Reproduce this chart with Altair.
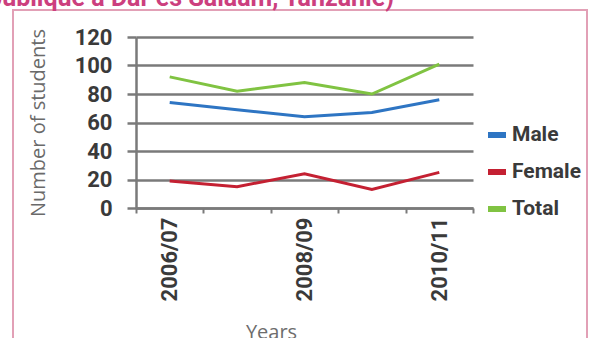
import altair as alt
import pandas as pd

# School enrolment by year, split by sex
years = ["2006/07", "2007/08", "2008/09", "2009/10", "2010/11"]
labelled_years = ["2006/07", "2008/09", "2010/11"]
series = ["Male", "Female", "Total"]
male = [74, 69, 64, 67, 76]
female = [19, 15, 24, 13, 25]
total = [92, 82, 88, 80, 101]
colors = ["#2e75c3", "#c42032", "#80c342"]
heading = "République à Dar es Salaam, Tanzanie)"

rows = []
for name, vals in zip(series, [male, female, total]):
    for yr, v in zip(years, vals):
        rows.append({"Year": yr, "Series": name, "Students": v})
df = pd.DataFrame(rows)

W, H = 337, 171
PINK = "#e2a0b6"
FONT = "Roboto"
GRID = "#7a7a7a"

label_expr = "indexof(" + str(labelled_years) + ", datum.value) >= 0 ? datum.label : ''"

lines = alt.Chart(df).mark_line(strokeWidth=3).encode(
    x=alt.X(
        "Year:N",
        sort=years,
        scale=alt.Scale(type="band", paddingInner=0, paddingOuter=0),
        axis=alt.Axis(
            title="Years",
            labelAngle=270,
            labelExpr=label_expr,
            labelFont=FONT,
            labelFontWeight="bold",
            labelFontSize=22,
            labelColor="#3a3a3a",
            labelPadding=4,
            tickBand="extent",
            tickSize=5,
            tickWidth=2,
            tickColor=GRID,
            domainColor=GRID,
            domainWidth=2.5,
            titleFont="Open Sans",
            titleFontSize=20,
            titleColor="#6d6d6d",
            titleFontWeight="normal",
            titleX=135,
            titleY=114,
            titleBaseline="top",
            titleAnchor="start",
            titleAlign="center",
        ),
    ),
    y=alt.Y(
        "Students:Q",
        scale=alt.Scale(domain=[0, 120], nice=False),
        axis=alt.Axis(
            title="Number of students",
            values=[0, 20, 40, 60, 80, 100, 120],
            grid=True,
            gridColor=GRID,
            gridWidth=2.5,
            domainColor=GRID,
            domainWidth=2.5,
            tickSize=9,
            tickWidth=2.5,
            tickColor=GRID,
            labelFont=FONT,
            labelFontWeight="bold",
            labelFontSize=22,
            labelColor="#3a3a3a",
            labelPadding=15,
            titleFont="Open Sans",
            titleFontSize=20,
            titleFontWeight="normal",
            titleColor="#6a6a6a",
            titleX=-98,
            titleY=H / 2,
            titleAnchor="start",
            titleAlign="center",
            titleBaseline="middle",
        ),
    ),
    color=alt.Color(
        "Series:N",
        sort=series,
        scale=alt.Scale(domain=series, range=colors),
        legend=alt.Legend(
            title=None,
            orient="none",
            legendX=349,
            legendY=86,
            symbolType="stroke",
            symbolSize=324,
            symbolStrokeWidth=6,
            labelFont=FONT,
            labelFontWeight="bold",
            labelFontSize=21,
            labelColor="#3a3a3a",
            labelOffset=3,
            rowPadding=13,
        ),
    ),
)

frame = alt.Chart(alt.Data(values=[{}])).mark_rect(
    filled=False, stroke=PINK, strokeWidth=2
).encode(
    x=alt.value(-123), x2=alt.value(451), y=alt.value(-27), y2=alt.value(330)
)

caption = alt.Chart(alt.Data(values=[{}])).mark_text(
    text=heading,
    align="right",
    baseline="alphabetic",
    font=FONT,
    fontWeight="bold",
    fontSize=25,
    color="#cc3f7e",
).encode(x=alt.value(258), y=alt.value(-31))

chart = (
    alt.layer(frame, caption, lines)
    .properties(
        width=W,
        height=H,
        autosize=alt.AutoSizeParams(type="none"),
        padding={"left": 136, "top": 37, "right": 117, "bottom": 130},
        background="white",
    )
    .configure_view(strokeWidth=0)
)

chart.save("out.html", embed_options={"renderer": "svg", "actions": False})
